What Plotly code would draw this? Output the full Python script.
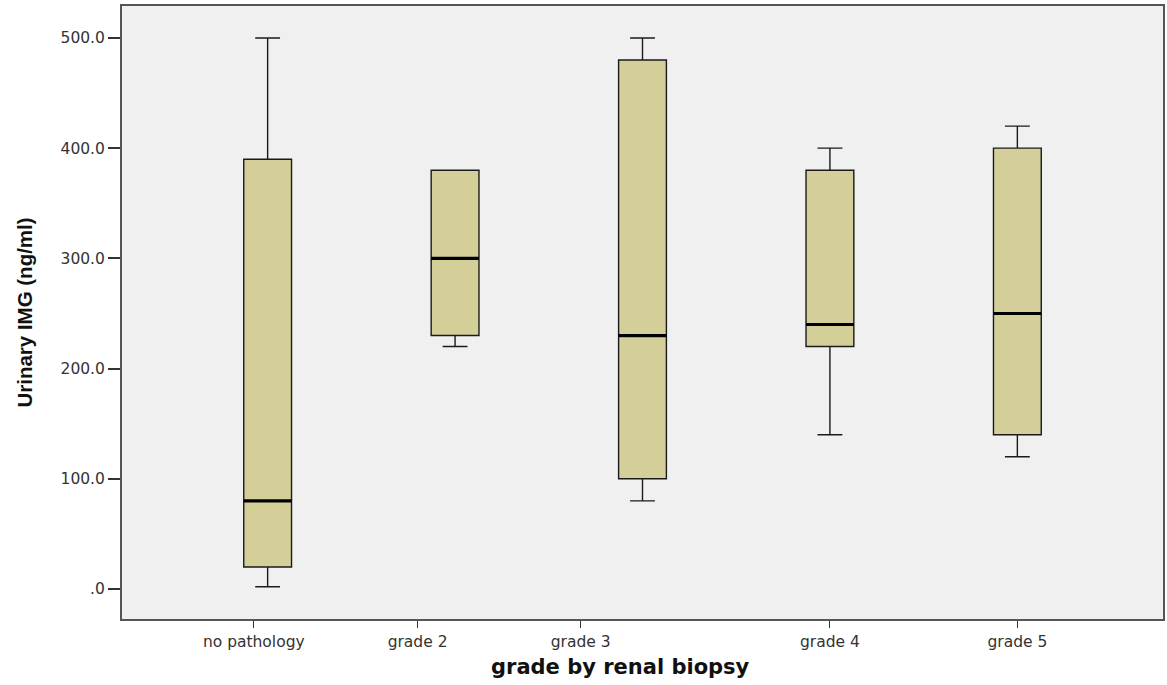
import plotly.graph_objects as go

categories = ["no pathology", "grade 2", "grade 3", "grade 4", "grade 5"]
lower_whisker = [2, 220, 80, 140, 120]
q1_values = [20, 230, 100, 220, 140]
medians = [80, 300, 230, 240, 250]
q3_values = [390, 380, 480, 380, 400]
upper_whisker = [500, 380, 500, 400, 420]
y_tick_values = [0, 100, 200, 300, 400, 500]
y_tick_labels = [".0", "100.0", "200.0", "300.0", "400.0", "500.0"]

positions = list(range(len(categories)))
box_w = 0.255
fill = "#D4CF99"

fig = go.Figure()
fig.add_trace(go.Box(
    x=positions, q1=q1_values, median=medians, q3=q3_values,
    lowerfence=lower_whisker, upperfence=upper_whisker,
    width=box_w, whiskerwidth=0.52, fillcolor=fill,
    line=dict(color="#1a1a1a", width=1.4), boxpoints=False,
    showlegend=False, hoverinfo="skip",
))
mx, my = [], []
for p, m in zip(positions, medians):
    mx += [p - box_w / 2, p + box_w / 2, None]
    my += [m, m, None]
fig.add_trace(go.Scatter(x=mx, y=my, mode="lines",
                         line=dict(color="#000000", width=3.2),
                         showlegend=False, hoverinfo="skip"))

# tick label positions as drawn in the reference image
x_tick_pos = [-0.074, 0.80, 1.67, 3.0, 4.0]

fig.update_layout(
    width=1167, height=685,
    margin=dict(l=122, r=2, t=6, b=66),
    paper_bgcolor="white", plot_bgcolor="#F0F0F0",
    font=dict(family="DejaVu Sans", size=13, color="#333333"),
    xaxis=dict(range=[-0.777, 4.777], tickvals=x_tick_pos, ticktext=categories,
               ticks="outside", ticklen=7, tickwidth=1.3, tickcolor="#333333",
               showgrid=False, zeroline=False, showline=True, mirror=True,
               linecolor="#555555", linewidth=2,
               tickfont=dict(family="DejaVu Sans", size=15.5, color="#333333")),
    yaxis=dict(range=[-27.2, 529], tickvals=y_tick_values, ticktext=y_tick_labels,
               ticks="outside", ticklen=12, tickwidth=1.5, tickcolor="#333333",
               showgrid=False, zeroline=False, showline=True, mirror=True,
               linecolor="#555555", linewidth=2,
               tickfont=dict(family="DejaVu Sans", size=15.5, color="#333333"),
               title=dict(text="<b>Urinary IMG (ng/ml)</b>", standoff=22,
                          font=dict(family="Liberation Sans Narrow, Arial Narrow, Liberation Sans",
                                    size=20.5, color="#111111"))),
    annotations=[dict(text="<b>grade by renal biopsy</b>", xref="paper", yref="paper",
                      x=0.479, y=-0.056, xanchor="center", yanchor="top", showarrow=False,
                      font=dict(family="DejaVu Sans", size=21, color="#111111"))],
)
fig.write_html("out.html")
